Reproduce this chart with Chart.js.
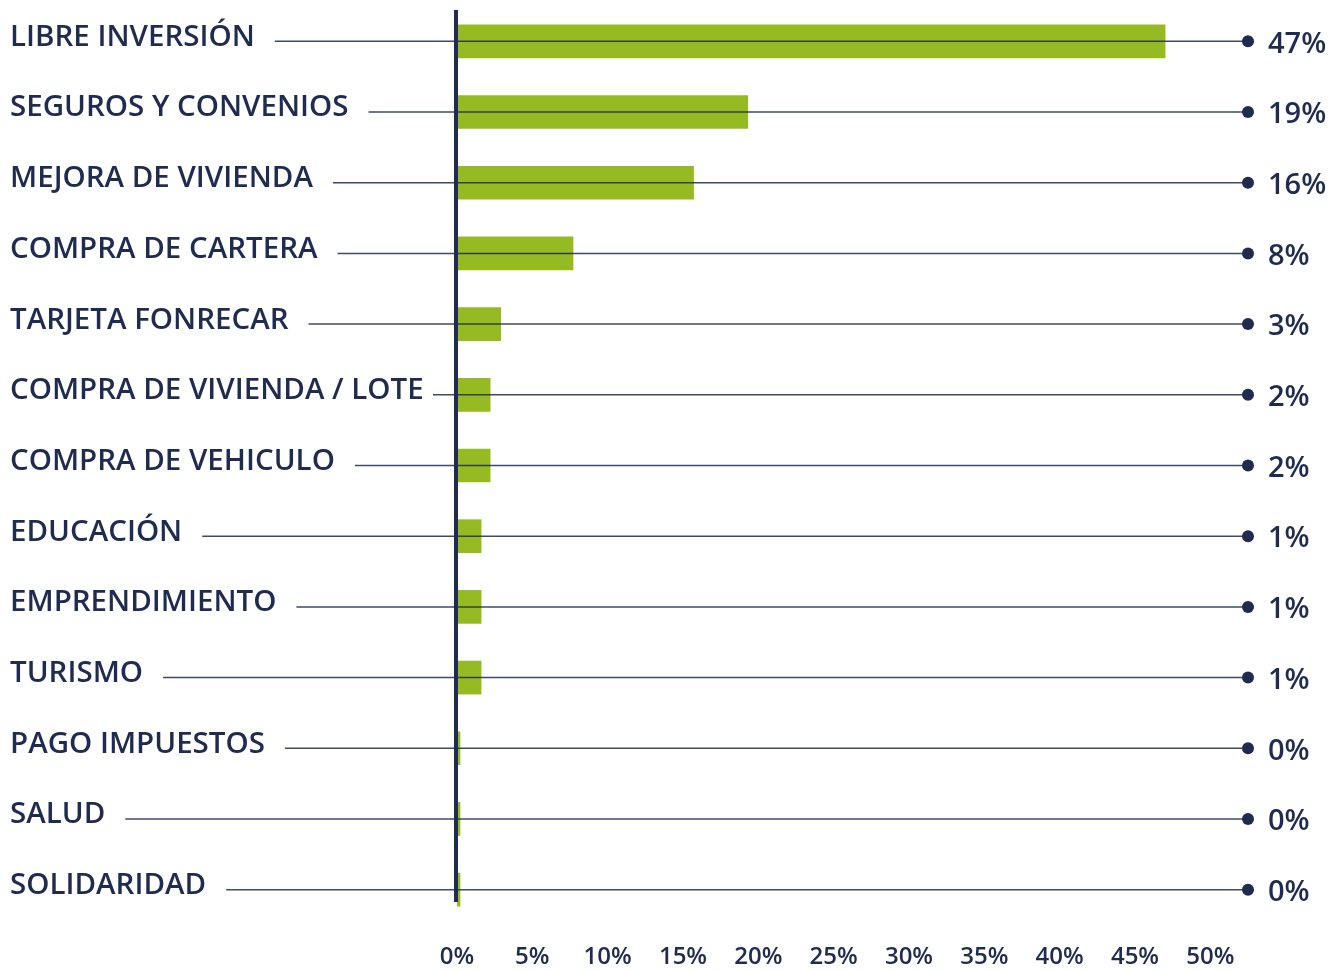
<!DOCTYPE html>
<html>
<head>
<meta charset="utf-8">
<script src="https://cdn.jsdelivr.net/npm/chart.js@4.4.0/dist/chart.umd.min.js"></script>
<style>
  html, body { margin: 0; padding: 0; background: #fff; }
  #wrap { width: 1338px; height: 970px; }
</style>
</head>
<body>
<div id="wrap"><canvas id="myChart"></canvas></div>
<script>
const categories = [
  "LIBRE INVERSIÓN", "SEGUROS Y CONVENIOS", "MEJORA DE VIVIENDA", "COMPRA DE CARTERA",
  "TARJETA FONRECAR", "COMPRA DE VIVIENDA / LOTE", "COMPRA DE VEHICULO", "EDUCACIÓN",
  "EMPRENDIMIENTO", "TURISMO", "PAGO IMPUESTOS", "SALUD", "SOLIDARIDAD"
];
const shares = [47, 19.3, 15.7, 7.7, 2.9, 2.2, 2.2, 1.6, 1.6, 1.6, 0.2, 0.2, 0.2];
const shareLabels = ["47%", "19%", "16%", "8%", "3%", "2%", "2%", "1%", "1%", "1%", "0%", "0%", "0%"];
const xTickLabels = ["0%", "5%", "10%", "15%", "20%", "25%", "30%", "35%", "40%", "45%", "50%"];

const navy = "#1f2b4f";
const green = "#95ba22";
const fontFamily = "'Open Sans', Lato, sans-serif";
const labelSize = 29.5;
const labelFont = "600 " + labelSize + "px " + fontFamily;

// leader lines from each label to a dot at the right edge, plus the zero axis
const leaders = {
  id: "leaders",
  afterDatasetsDraw(chart) {
    const { ctx, chartArea, scales } = chart;
    const y = scales.y;
    ctx.save();
    ctx.font = labelFont;
    categories.forEach((c, i) => {
      const py = y.getPixelForTick(i);
      const start = Math.min(10 + ctx.measureText(c).width + 20, 433);
      ctx.strokeStyle = "rgba(31,43,79,0.85)";
      ctx.lineWidth = 1.5;
      ctx.beginPath();
      ctx.moveTo(start, py);
      ctx.lineTo(chartArea.right, py);
      ctx.stroke();
      ctx.fillStyle = navy;
      ctx.beginPath();
      ctx.arc(chartArea.right, py, 6, 0, Math.PI * 2);
      ctx.fill();
    });
    ctx.fillStyle = navy;
    ctx.fillRect(chartArea.left - 3, 10, 4, 892);
    ctx.restore();
  }
};

const noVerticalPadding = scale => { scale.paddingTop = 0; scale.paddingBottom = 0; };

new Chart(document.getElementById("myChart"), {
  type: "bar",
  data: {
    labels: categories,
    datasets: [{
      data: shares,
      backgroundColor: green,
      barThickness: 33,
      borderWidth: 0
    }]
  },
  options: {
    indexAxis: "y",
    responsive: true,
    maintainAspectRatio: false,
    animation: false,
    layout: { padding: { left: 10, top: 6, right: 0, bottom: 0 } },
    plugins: { legend: { display: false }, tooltip: { enabled: false } },
    scales: {
      x: {
        min: 0,
        max: 52.5,
        grid: { display: false, drawTicks: false },
        border: { display: false },
        afterFit: scale => { scale.height = 45; },
        ticks: {
          stepSize: 5,
          includeBounds: false,
          autoSkip: false,
          maxRotation: 0,
          padding: 18,
          color: navy,
          font: { family: fontFamily, size: 24, weight: "600" },
          callback: v => xTickLabels[v / 5]
        }
      },
      y: {
        grid: { display: false, drawTicks: false },
        border: { display: false },
        afterFit: scale => { scale.width = 447; noVerticalPadding(scale); },
        ticks: {
          crossAlign: "far",
          labelOffset: -4,
          color: navy,
          font: { family: fontFamily, size: labelSize, weight: "600" }
        }
      },
      y2: {
        type: "category",
        labels: shareLabels,
        position: "right",
        offset: true,
        grid: { display: false, drawTicks: false },
        border: { display: false },
        afterFit: scale => { scale.width = 90; noVerticalPadding(scale); },
        ticks: {
          padding: 20,
          labelOffset: 3,
          color: navy,
          font: { family: fontFamily, size: 29, weight: "600" }
        }
      }
    }
  },
  plugins: [leaders]
});
</script>
</body>
</html>
